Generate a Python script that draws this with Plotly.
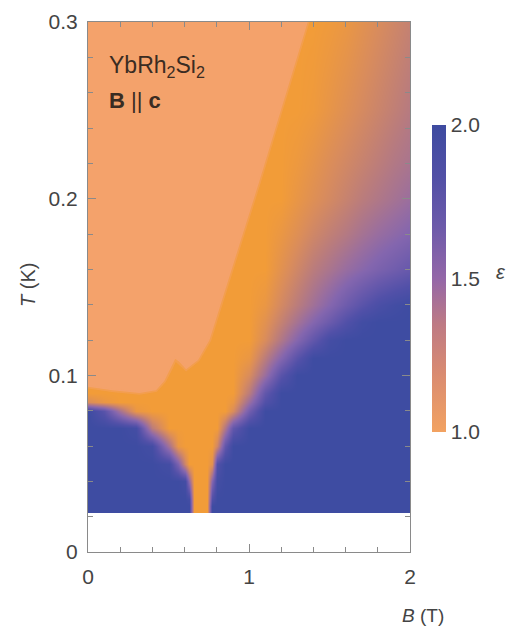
import plotly.graph_objects as go

# Field B (T) grid columns and temperature T (K) grid rows
B_cols = [0.0, 0.1, 0.2, 0.3, 0.4, 0.5, 0.56, 0.6, 0.63, 0.66, 0.70, 0.74, 0.77, 0.80,
          0.85, 0.9, 1.0, 1.1, 1.2, 1.3, 1.4, 1.5, 1.6, 1.7, 1.8, 1.9, 2.0]
T_rows = [0.0235, 0.026, 0.03, 0.04, 0.05, 0.06, 0.07, 0.08, 0.085, 0.09, 0.10, 0.11,
          0.12, 0.13, 0.14, 0.16, 0.18, 0.20, 0.22, 0.25, 0.30]

# exponent epsilon, one list per T row
eps_T0235 = [2, 2, 2, 2, 2, 2, 2, 2, 2.0, 1.0, 1.0, 1.0, 2.0, 2, 2, 2, 2, 2, 2, 2, 2, 2, 2, 2, 2, 2, 2]
eps_T026 = [2, 2, 2, 2, 2, 2, 2, 2, 2.0, 1.0, 1.0, 1.0, 2.0, 2, 2, 2, 2, 2, 2, 2, 2, 2, 2, 2, 2, 2, 2]
eps_T030 = [2, 2, 2, 2, 2, 2, 2, 2, 1.95, 1.0, 1.0, 1.0, 1.85, 2, 2, 2, 2, 2, 2, 2, 2, 2, 2, 2, 2, 2, 2]
eps_T040 = [2, 2, 2, 2, 2, 2, 2, 1.95, 1.5, 1.0, 1.0, 1.0, 1.55, 1.95, 2, 2, 2, 2, 2, 2, 2, 2, 2, 2, 2, 2, 2]
eps_T050 = [2, 2, 2, 2, 2, 1.95, 1.6, 1.2, 1.0, 1.0, 1.0, 1.0, 1.1, 1.85, 2, 2, 2, 2, 2, 2, 2, 2, 2, 2, 2, 2, 2]
eps_T060 = [2, 2, 2, 2, 1.95, 1.4, 1.05, 1.0, 1.0, 1.0, 1.0, 1.0, 1.0, 1.2, 1.75, 2, 2, 2, 2, 2, 2, 2, 2, 2, 2, 2, 2]
eps_T070 = [2, 2, 2, 1.95, 1.3, 1.0, 1.0, 1.0, 1.0, 1.0, 1.0, 1.0, 1.0, 1.0, 1.35, 1.75, 2, 2, 2, 2, 2, 2, 2, 2, 2, 2, 2]
eps_T080 = [2, 1.8, 1.4, 1.05, 1.0, 1.0, 1.0, 1.0, 1.0, 1.0, 1.0, 1.0, 1.0, 1.0, 1.0, 1.15, 1.65, 2, 2, 2, 2, 2, 2, 2, 2, 2, 2]
eps_T085 = [1.15, 1.05, 1.0, 1.0, 1.0, 1.0, 1.0, 1.0, 1.0, 1.0, 1.0, 1.0, 1.0, 1.0, 1.0, 1.05, 1.45, 1.85, 2, 2, 2, 2, 2, 2, 2, 2, 2]
eps_T090 = [1.0, 1.0, 1.0, 1.0, 1.0, 1.0, 1.0, 1.0, 1.0, 1.0, 1.0, 1.0, 1.0, 1.0, 1.0, 1.0, 1.3, 1.75, 2, 2, 2, 2, 2, 2, 2, 2, 2]
eps_T100 = [1.0, 1.0, 1.0, 1.0, 1.0, 1.0, 1.0, 1.0, 1.0, 1.0, 1.0, 1.0, 1.0, 1.0, 1.0, 1.0, 1.15, 1.45, 1.8, 2, 2, 2, 2, 2, 2, 2, 2]
eps_T110 = [1.0, 1.0, 1.0, 1.0, 1.0, 1.0, 1.0, 1.0, 1.0, 1.0, 1.0, 1.0, 1.0, 1.0, 1.0, 1.0, 1.05, 1.3, 1.55, 1.8, 2, 2, 2, 2, 2, 2, 2]
eps_T120 = [1.0, 1.0, 1.0, 1.0, 1.0, 1.0, 1.0, 1.0, 1.0, 1.0, 1.0, 1.0, 1.0, 1.0, 1.0, 1.0, 1.0, 1.15, 1.35, 1.55, 1.75, 1.95, 2, 2, 2, 2, 2]
eps_T130 = [1.0, 1.0, 1.0, 1.0, 1.0, 1.0, 1.0, 1.0, 1.0, 1.0, 1.0, 1.0, 1.0, 1.0, 1.0, 1.0, 1.0, 1.1, 1.25, 1.4, 1.55, 1.7, 1.85, 1.97, 2, 2, 2]
eps_T140 = [1.0, 1.0, 1.0, 1.0, 1.0, 1.0, 1.0, 1.0, 1.0, 1.0, 1.0, 1.0, 1.0, 1.0, 1.0, 1.0, 1.0, 1.05, 1.18, 1.3, 1.42, 1.55, 1.68, 1.8, 1.9, 1.96, 2.0]
eps_T160 = [1.0, 1.0, 1.0, 1.0, 1.0, 1.0, 1.0, 1.0, 1.0, 1.0, 1.0, 1.0, 1.0, 1.0, 1.0, 1.0, 1.0, 1.0, 1.1, 1.2, 1.3, 1.38, 1.46, 1.53, 1.6, 1.66, 1.72]
eps_T180 = [1.0, 1.0, 1.0, 1.0, 1.0, 1.0, 1.0, 1.0, 1.0, 1.0, 1.0, 1.0, 1.0, 1.0, 1.0, 1.0, 1.0, 1.0, 1.05, 1.12, 1.2, 1.27, 1.33, 1.4, 1.46, 1.51, 1.56]
eps_T200 = [1.0, 1.0, 1.0, 1.0, 1.0, 1.0, 1.0, 1.0, 1.0, 1.0, 1.0, 1.0, 1.0, 1.0, 1.0, 1.0, 1.0, 1.0, 1.0, 1.06, 1.12, 1.18, 1.24, 1.3, 1.35, 1.4, 1.45]
eps_T220 = [1.0, 1.0, 1.0, 1.0, 1.0, 1.0, 1.0, 1.0, 1.0, 1.0, 1.0, 1.0, 1.0, 1.0, 1.0, 1.0, 1.0, 1.0, 1.0, 1.03, 1.08, 1.14, 1.19, 1.24, 1.29, 1.34, 1.38]
eps_T250 = [1.0, 1.0, 1.0, 1.0, 1.0, 1.0, 1.0, 1.0, 1.0, 1.0, 1.0, 1.0, 1.0, 1.0, 1.0, 1.0, 1.0, 1.0, 1.0, 1.0, 1.02, 1.07, 1.12, 1.17, 1.22, 1.27, 1.32]
eps_T300 = [1.0, 1.0, 1.0, 1.0, 1.0, 1.0, 1.0, 1.0, 1.0, 1.0, 1.0, 1.0, 1.0, 1.0, 1.0, 1.0, 1.0, 1.0, 1.0, 1.0, 1.0, 1.02, 1.05, 1.1, 1.15, 1.2, 1.25]

eps_grid = [eps_T0235, eps_T026, eps_T030, eps_T040, eps_T050, eps_T060, eps_T070,
            eps_T080, eps_T085, eps_T090, eps_T100, eps_T110, eps_T120, eps_T130,
            eps_T140, eps_T160, eps_T180, eps_T200, eps_T220, eps_T250, eps_T300]

# boundary of the high-temperature (light orange) region
salmon_B = [0.0, 0.0, 1.36, 1.06, 0.75, 0.68, 0.61, 0.57, 0.54, 0.51, 0.47, 0.42, 0.32, 0.15, 0.0]
salmon_T = [0.094, 0.30, 0.30, 0.21, 0.12, 0.109, 0.104, 0.108, 0.110, 0.104, 0.097, 0.092, 0.0905, 0.092, 0.094]

y_ticks = [0, 0.1, 0.2, 0.3]
y_ticktext = ["0", "0.1", "0.2", "0.3"]
x_ticks = [0, 1, 2]
x_ticktext = ["0", "1", "2"]
cb_range = [1.0, 2.0]
cb_ticks = [1.0, 1.5, 2.0]
cb_ticktext = ["1.0", "1.5", "2.0"]

SALMON = "#F4A26B"
map_scale = [
    [0.0, "#F29C38"],
    [0.15, "#D98C5C"],
    [0.3, "#BA7C7C"],
    [0.45, "#9A6E9E"],
    [0.55, "#8466AE"],
    [0.7, "#6A5AAC"],
    [0.85, "#5150A8"],
    [1.0, "#3E4CA2"],
]
bar_scale = [
    [0.0, "#F2A261"],
    [0.2, "#D88A72"],
    [0.35, "#BE7A84"],
    [0.5, "#9467A8"],
    [0.67, "#6C5AAA"],
    [0.83, "#5250A6"],
    [1.0, "#3E4BA0"],
]

FONT = "Liberation Sans, Arial, sans-serif"
TXT = "#444444"
AX = "#8a8a8a"

fig = go.Figure()
fig.add_trace(go.Heatmap(
    x=B_cols, y=T_rows, z=eps_grid, zsmooth="best",
    zmin=cb_range[0], zmax=cb_range[1], colorscale=map_scale,
    showscale=False, hoverinfo="skip",
))
# soft rim, then the flat light-orange region
fig.add_trace(go.Scatter(
    x=salmon_B, y=salmon_T, mode="lines",
    line=dict(color="rgba(244,162,107,0.45)", width=5),
    hoverinfo="skip", showlegend=False,
))
fig.add_trace(go.Scatter(
    x=salmon_B, y=salmon_T, mode="lines", fill="toself",
    fillcolor=SALMON, line=dict(color=SALMON, width=1.5),
    hoverinfo="skip", showlegend=False,
))
# colour bar for epsilon
fig.add_trace(go.Scatter(
    x=[None, None], y=[None, None], mode="markers", showlegend=False, hoverinfo="skip",
    marker=dict(
        color=cb_range, cmin=cb_range[0], cmax=cb_range[1], colorscale=bar_scale,
        showscale=True,
        colorbar=dict(
            x=1.068, xanchor="left", xpad=0,
            y=0.516, yanchor="middle", ypad=0,
            len=307, lenmode="pixels", thickness=14,
            outlinewidth=0, tickvals=cb_ticks, ticktext=cb_ticktext,
            ticks="", ticklabelposition="outside",
            tickfont=dict(family=FONT, size=21, color=TXT),
        ),
    ),
))

fig.update_xaxes(
    range=[0, 2], tickvals=x_ticks, ticktext=x_ticktext,
    ticks="inside", ticklen=8, tickcolor=AX, tickwidth=1,
    showline=True, linecolor=AX, linewidth=1, mirror="ticks",
    showgrid=False, zeroline=False,
    tickfont=dict(family=FONT, size=21, color=TXT),
    minor=dict(dtick=0.2, tick0=0, ticks="inside", ticklen=5, tickcolor=AX, showgrid=False),
    ticklabelstandoff=6,
)
fig.update_yaxes(
    range=[0, 0.3], tickvals=y_ticks, ticktext=y_ticktext,
    ticks="inside", ticklen=8, tickcolor=AX, tickwidth=1,
    showline=True, linecolor=AX, linewidth=1, mirror="ticks",
    showgrid=False, zeroline=False,
    tickfont=dict(family=FONT, size=21, color=TXT),
    minor=dict(dtick=0.02, tick0=0, ticks="inside", ticklen=5, tickcolor=AX, showgrid=False),
    ticklabelstandoff=5,
)

annots = [
    dict(text="<i>B</i> (T)", x=1.04, y=-0.119, xref="paper", yref="paper",
         xanchor="center", yanchor="middle",
         showarrow=False, font=dict(family=FONT, size=19, color=TXT)),
    dict(text="<i>T</i> (K)", x=-0.186, y=0.504, xref="paper", yref="paper",
         xanchor="center", yanchor="middle",
         showarrow=False, textangle=-90, font=dict(family=FONT, size=20, color=TXT)),
    dict(text="<i>ε</i>", x=1.284, y=0.528, xref="paper", yref="paper",
         xanchor="center", yanchor="middle",
         showarrow=False, font=dict(family=FONT, size=20, color=TXT)),
    dict(text="YbRh<sub>2</sub>Si<sub>2</sub>", x=0.058, y=0.916, xref="paper", yref="paper",
         xanchor="left", yanchor="middle", showarrow=False,
         font=dict(family=FONT, size=23, color="#3a2c22")),
    dict(text="<b>B</b> || <b>c</b>", x=0.058, y=0.851, xref="paper", yref="paper",
         xanchor="left", yanchor="middle", showarrow=False,
         font=dict(family=FONT, size=22, color="#3a2c22")),
]

fig.update_layout(
    width=516, height=636,
    margin=dict(l=80, r=114, t=14, b=92, autoexpand=False),
    paper_bgcolor="white", plot_bgcolor="white",
    showlegend=False, annotations=annots,
)

fig.write_html("out.html")
